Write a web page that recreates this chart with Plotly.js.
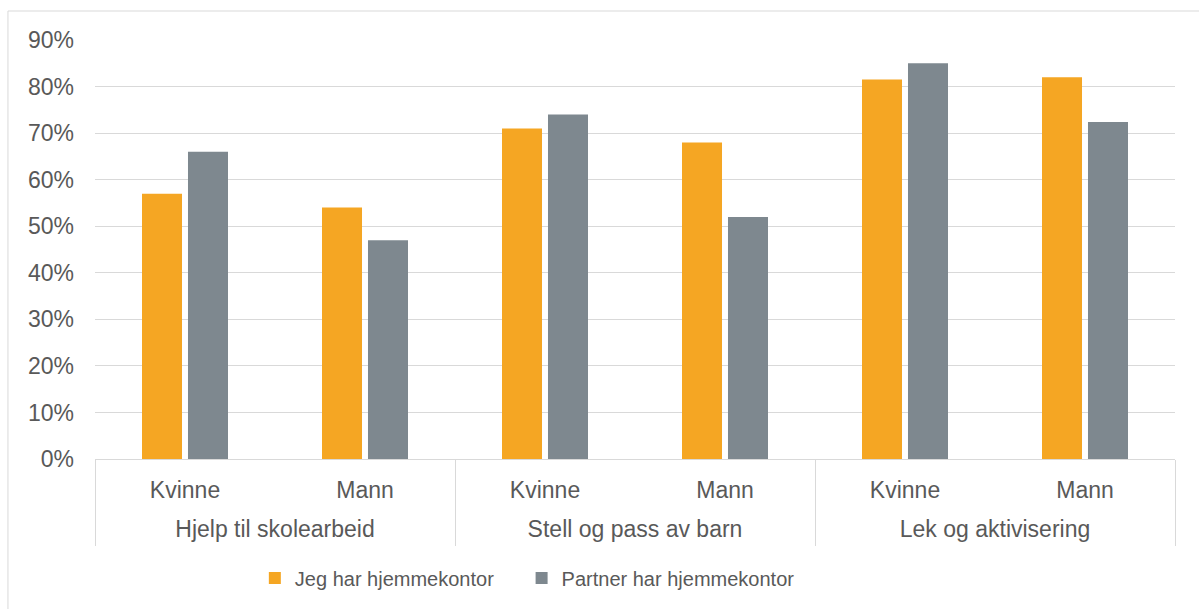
<!DOCTYPE html>
<html>
<head>
<meta charset="utf-8">
<script src="https://cdn.plot.ly/plotly-3.0.1.min.js"></script>
<style>html,body{margin:0;padding:0;background:#fff;}#chart{width:1199px;height:609px;}</style>
</head>
<body>
<div id="chart"></div>
<script>
const groups = ["Hjelp til skolearbeid", "Stell og pass av barn", "Lek og aktivisering"];
const genders = ["Kvinne", "Mann"];
const seriesNames = ["Jeg har hjemmekontor", "Partner har hjemmekontor"];
// values in percent, order: group x gender
const jegValues = [57, 54, 71, 68, 81.5, 82];
const partnerValues = [66, 47, 74, 52, 85, 72.4];
const yTickVals = [0, 10, 20, 30, 40, 50, 60, 70, 80, 90];
const yTickText = yTickVals.map(v => v + "%");

// category positions built from the arrays
const innerText = [], xPos = [];
groups.forEach((g, gi) => genders.forEach((s, si) => { innerText.push(s); xPos.push(gi * genders.length + si); }));
const n = xPos.length, per = genders.length;
const groupCenters = groups.map((g, gi) => gi * per + (per - 1) / 2);
const dividerVals = groups.map((g, gi) => gi * per - 0.5).concat([n - 0.5]);
const xRange = [-0.5, n - 0.5];

const font = {family: "Liberation Sans, Arial, sans-serif", size: 23, color: "#595959"};
const grid = "#d9d9d9";

const traces = [
  {type: "bar", name: seriesNames[0], x: xPos, y: jegValues, marker: {color: "#F5A623"}, hoverinfo: "skip", legend: "legend"},
  {type: "bar", name: seriesNames[1], x: xPos, y: partnerValues, marker: {color: "#7E888F"}, hoverinfo: "skip", legend: "legend2"},
  // helper traces (invisible) to activate the overlay axes
  {type: "scatter", mode: "markers", x: groupCenters, y: groupCenters.map(() => 0), xaxis: "x2", yaxis: "y",
   marker: {opacity: 0}, showlegend: false, hoverinfo: "skip"},
  {type: "scatter", mode: "markers", x: dividerVals, y: dividerVals.map(() => 0), xaxis: "x3", yaxis: "y",
   marker: {opacity: 0}, showlegend: false, hoverinfo: "skip"}
];

const legendFont = {family: "Liberation Sans, Arial, sans-serif", size: 20, color: "#595959"};

const layout = {
  width: 1199, height: 609,
  margin: {l: 95, r: 24, t: 40, b: 150},
  paper_bgcolor: "#ffffff", plot_bgcolor: "#ffffff",
  font: font,
  barmode: "group", bargap: 0.489, bargroupgap: 0.13,
  showlegend: true,
  legend: {orientation: "h", x: 0.148, xanchor: "left", y: -0.284, yanchor: "middle", font: legendFont},
  legend2: {orientation: "h", x: 0.395, xanchor: "left", y: -0.284, yanchor: "middle", font: legendFont},
  xaxis: {range: xRange, tickvals: xPos, ticktext: innerText, showline: true, linecolor: grid, linewidth: 1,
          ticks: "", ticklabelstandoff: 10, tickfont: font, showgrid: false, zeroline: false, fixedrange: true},
  xaxis2: {overlaying: "x", anchor: "y", side: "bottom", range: xRange, tickvals: groupCenters, ticktext: groups,
           ticks: "", ticklabelstandoff: 54, tickfont: font, showgrid: false, zeroline: false, showline: false, fixedrange: true},
  xaxis3: {overlaying: "x", anchor: "y", side: "bottom", range: xRange, tickvals: dividerVals, showticklabels: false,
           ticks: "outside", ticklen: 86, tickwidth: 1, tickcolor: grid, showgrid: false, zeroline: false, showline: false, fixedrange: true},
  yaxis: {range: [0, 90], tickvals: yTickVals, ticktext: yTickText, showgrid: true, gridcolor: grid,
          gridwidth: 1, zeroline: false, showline: false, tickfont: font, ticklabelstandoff: 20, fixedrange: true},
  shapes: [
    {type: "rect", xref: "paper", yref: "paper", x0: -0.0806, x1: 1.03, y0: 1.0692, y1: -0.38,
     line: {color: grid, width: 1}, fillcolor: "rgba(0,0,0,0)", layer: "below"}
  ]
};

Plotly.newPlot("chart", traces, layout, {staticPlot: true, displayModeBar: false});
</script>
</body>
</html>
